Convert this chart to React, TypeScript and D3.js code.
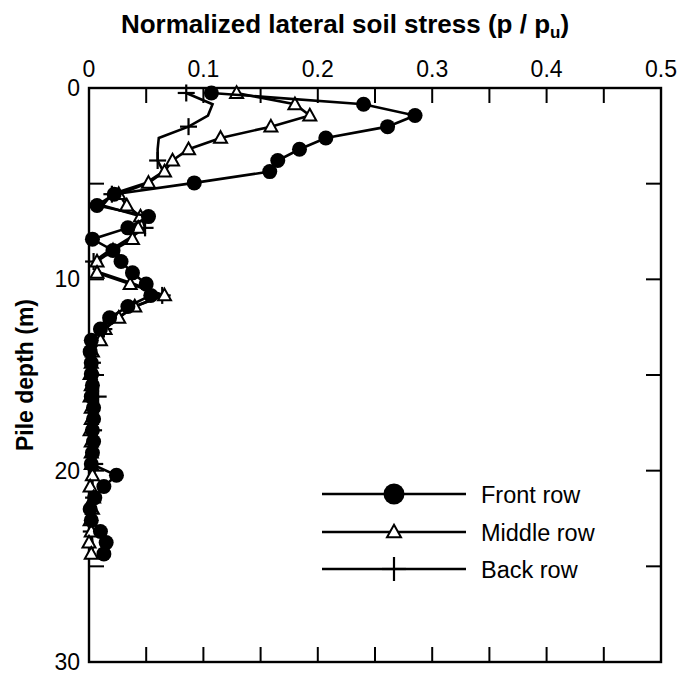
import React from "react";
import * as d3 from "d3";

// Pile depth (m) of each measuring point, top to bottom
const depths = [
  0.26, 0.85, 1.44, 2.02, 2.61, 3.2, 3.79, 4.37, 4.96, 5.55, 6.14, 6.72, 7.31, 7.9,
  8.49, 9.07, 9.66, 10.25, 10.84, 11.42, 12.01, 12.6, 13.19, 13.78, 14.36, 14.95,
  15.54, 16.13, 16.71, 17.3, 17.89, 18.48, 19.06, 19.65, 20.24, 20.83, 21.41, 22.0,
  22.59, 23.18, 23.76, 24.35,
];

// Normalized lateral soil stress p / pu per row
const frontRow = [
  0.107, 0.24, 0.285, 0.261, 0.207, 0.184, 0.165, 0.158, 0.092, 0.022, 0.007, 0.052,
  0.034, 0.003, 0.021, 0.028, 0.038, 0.05, 0.054, 0.034, 0.018, 0.01, 0.002, 0.001,
  0.002, 0.002, 0.003, 0.002, 0.004, 0.004, 0.003, 0.004, 0.003, 0.002, 0.024, 0.013,
  0.005, 0.001, 0.002, 0.01, 0.015, 0.013,
];
const middleRow = [
  0.129, 0.18, 0.193, 0.159, 0.115, 0.087, 0.073, 0.066, 0.052, 0.026, 0.033, 0.045,
  0.043, 0.038, 0.021, 0.007, 0.007, 0.036, 0.066, 0.04, 0.026, 0.014, 0.01, 0.003,
  0.002, 0.001, 0.002, 0.001, 0.002, 0.002, 0.001, 0.002, 0.002, 0.002, 0.003, 0.001,
  0.004, 0.003, 0.001, 0.002, 0.0, 0.002,
];
const backRow = [
  0.085, 0.108, 0.104, 0.087, 0.061, 0.06, 0.06, 0.065, 0.05, 0.02, 0.012, 0.046,
  0.049, 0.034, 0.018, 0.004, 0.01, 0.04, 0.064, 0.04, 0.025, 0.013, 0.007, 0.004,
  0.003, 0.008, 0.004, 0.008, 0.004, 0.003, 0.004, 0.003, 0.004, 0.005, 0.003, 0.003,
  0.004, 0.002, 0.003, 0.002, 0.003, 0.003,
];

const xTickLabels = [0, 0.1, 0.2, 0.3, 0.4, 0.5];
const xMinorTicks = [0.05, 0.1, 0.15, 0.2, 0.25, 0.3, 0.35, 0.4, 0.45];
const yTickLabels = [0, 10, 20, 30];
const yMinorTicks = [5, 10, 15, 20, 25];

const legendItems = ["Front row", "Middle row", "Back row"];

const FONT = "'Liberation Sans', Arial, Helvetica, sans-serif";

const W = 688;
const H = 685;
const plot = { left: 89, right: 661, top: 88, bottom: 662 };

const x = d3.scaleLinear().domain([0, 0.5]).range([plot.left, plot.right]);
const y = d3.scaleLinear().domain([0, 30]).range([plot.top, plot.bottom]);

type Pt = [number, number];
const pts = (vals: number[]): Pt[] => vals.map((v, i) => [v, depths[i]]);

const line = d3
  .line<Pt>()
  .x((p) => x(p[0]))
  .y((p) => y(p[1]));

function Circle({ cx, cy, r = 7.5 }: { cx: number; cy: number; r?: number }) {
  return <circle cx={cx} cy={cy} r={r} fill="#000" />;
}

function Triangle({ cx, cy, s = 13 }: { cx: number; cy: number; s?: number }) {
  const h = s * 0.9;
  const d = `M${cx},${cy - h * 0.58}L${cx + s / 2},${cy + h * 0.42}L${cx - s / 2},${cy + h * 0.42}Z`;
  return <path d={d} fill="#fff" stroke="#000" strokeWidth={2} strokeLinejoin="miter" />;
}

function Plus({ cx, cy, s = 17 }: { cx: number; cy: number; s?: number }) {
  return (
    <g stroke="#000" strokeWidth={2.2}>
      <line x1={cx - s / 2} x2={cx + s / 2} y1={cy} y2={cy} />
      <line x1={cx} x2={cx} y1={cy - s / 2} y2={cy + s / 2} />
    </g>
  );
}

export default function App() {
  const back = pts(backRow);
  const middle = pts(middleRow);
  const front = pts(frontRow);
  const tick = 15;
  const legendY = [494, 532, 569];

  return (
    <svg
      width={W}
      height={H}
      viewBox={`0 0 ${W} ${H}`}
      style={{ position: "absolute", left: 0, top: 0, background: "#fff" }}
    >
      {/* Title */}
      <text
        x={345}
        y={33}
        textAnchor="middle"
        fontFamily={FONT}
        fontWeight="bold"
        fontSize={26}
      >
        Normalized lateral soil stress (p / p
        <tspan fontSize={17} dy={5}>
          u
        </tspan>
        <tspan dy={-5}>)</tspan>
      </text>

      {/* Y axis title */}
      <text
        transform={`translate(33,${(plot.top + plot.bottom) / 2}) rotate(-90)`}
        textAnchor="middle"
        fontFamily={FONT}
        fontWeight="bold"
        fontSize={23}
      >
        Pile depth (m)
      </text>

      {/* Top tick labels */}
      {xTickLabels.map((t) => (
        <text
          key={`xl${t}`}
          x={x(t)}
          y={77}
          textAnchor="middle"
          fontFamily={FONT}
          fontSize={23}
        >
          {t === 0 ? "0" : t.toFixed(1)}
        </text>
      ))}

      {/* Left tick labels */}
      {yTickLabels.map((t) => (
        <text
          key={`yl${t}`}
          x={80}
          y={y(t) + 8}
          textAnchor="end"
          fontFamily={FONT}
          fontSize={23}
        >
          {t}
        </text>
      ))}

      {/* Frame and inward ticks */}
      <g stroke="#000" strokeWidth={2}>
        {xMinorTicks.map((t) => (
          <g key={`xt${t}`}>
            <line x1={x(t)} x2={x(t)} y1={plot.top} y2={plot.top + tick} />
            <line x1={x(t)} x2={x(t)} y1={plot.bottom} y2={plot.bottom - tick} />
          </g>
        ))}
        {yMinorTicks.map((t) => (
          <g key={`yt${t}`}>
            <line x1={plot.left} x2={plot.left + tick} y1={y(t)} y2={y(t)} />
            <line x1={plot.right} x2={plot.right - tick} y1={y(t)} y2={y(t)} />
          </g>
        ))}
        <rect
          x={plot.left}
          y={plot.top}
          width={plot.right - plot.left}
          height={plot.bottom - plot.top}
          fill="none"
          strokeWidth={2.4}
        />
      </g>

      {/* Back row */}
      <path d={line(back) ?? ""} fill="none" stroke="#000" strokeWidth={2.6} />
      {back.map((p, i) =>
        i % 3 === 0 ? <Plus key={`b${i}`} cx={x(p[0])} cy={y(p[1])} /> : null
      )}

      {/* Middle row */}
      <path d={line(middle) ?? ""} fill="none" stroke="#000" strokeWidth={2.6} />
      {middle.map((p, i) => (
        <Triangle key={`m${i}`} cx={x(p[0])} cy={y(p[1])} />
      ))}

      {/* Front row */}
      <path d={line(front) ?? ""} fill="none" stroke="#000" strokeWidth={2.6} />
      {front.map((p, i) => (
        <Circle key={`f${i}`} cx={x(p[0])} cy={y(p[1])} />
      ))}

      {/* Legend */}
      {legendItems.map((label, i) => {
        const ly = legendY[i];
        return (
          <g key={label}>
            <line x1={322} x2={466} y1={ly} y2={ly} stroke="#000" strokeWidth={2.6} />
            {i === 0 && <Circle cx={394} cy={ly} r={10.5} />}
            {i === 1 && <Triangle cx={394} cy={ly} s={14} />}
            {i === 2 && <Plus cx={394} cy={ly} s={24} />}
            <text x={481} y={ly + 8.5} fontFamily={FONT} fontSize={23.5}>
              {label}
            </text>
          </g>
        );
      })}
    </svg>
  );
}
